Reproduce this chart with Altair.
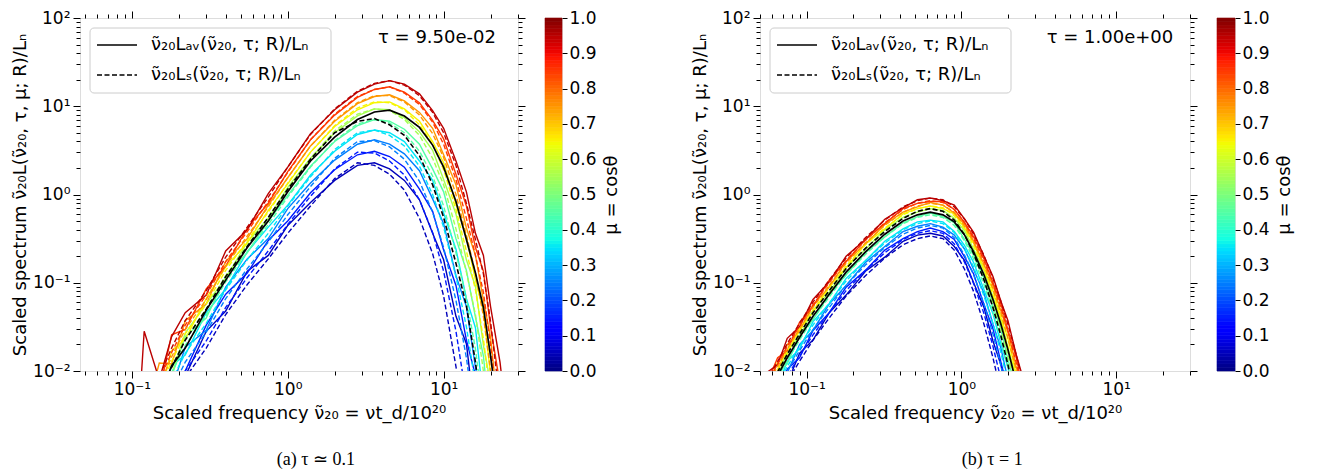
import altair as alt
import pandas as pd

# ---------------- data (log10 of scaled spectrum) ----------------
MU = [0.05, 0.15, 0.25, 0.35, 0.45, 0.55, 0.65, 0.75, 0.85, 0.95]

# panel (a): tau = 9.50e-02
NU_A = [0.11, 0.12, 0.15, 0.18, 0.22, 0.30, 0.40, 0.55, 0.75, 1.0, 1.4, 2.0, 2.8, 3.6,
        4.5, 5.6, 7.0, 8.5, 10, 12, 14, 16, 18, 20, 23, 26]

LOG_SOLID_A = {
    0.05: [None, -3.0, -2.51, -2.15, -2.06, -1.55, -1.32, -0.87, -0.69, -0.35, -0.09, 0.16, 0.33, 0.36, 0.29, 0.16, -0.06, -0.44, -0.74, -1.38, -1.69, -2.56, -3.16, None, None, None],
    0.15: [None, -2.92, -2.65, -2.11, -2.00, -1.48, -1.13, -0.89, -0.52, -0.30, 0.02, 0.28, 0.45, 0.49, 0.43, 0.31, 0.06, -0.19, -0.63, -1.03, -1.65, -2.05, -2.85, -3.49, None, None],
    0.25: [None, -2.79, -2.33, -2.21, -1.73, -1.54, -1.05, -0.73, -0.50, -0.16, 0.13, 0.39, 0.57, 0.62, 0.57, 0.46, 0.27, -0.05, -0.33, -0.92, -1.27, -1.96, -2.42, -3.16, None, None],
    0.35: [None, -2.77, -2.46, -1.94, -1.82, -1.34, -1.07, -0.65, -0.37, -0.12, 0.22, 0.49, 0.68, 0.73, 0.70, 0.60, 0.38, 0.16, -0.21, -0.62, -1.18, -1.51, -2.32, -2.85, None, None],
    0.45: [None, -2.61, -2.17, -2.06, -1.61, -1.40, -0.93, -0.66, -0.30, -0.01, 0.32, 0.60, 0.78, 0.85, 0.83, 0.74, 0.57, 0.29, 0.03, -0.50, -0.86, -1.39, -1.83, -2.63, -3.4, None],
    0.55: [None, -2.65, -2.08, -2.04, -1.57, -1.24, -0.95, -0.54, -0.27, 0.08, 0.41, 0.70, 0.89, 0.97, 0.96, 0.87, 0.71, 0.50, 0.17, -0.22, -0.74, -1.04, -1.71, -2.14, -3.08, None],
    0.65: [None, -2.40, -2.31, -1.77, -1.64, -1.18, -0.82, -0.55, -0.18, 0.12, 0.48, 0.77, 0.96, 1.04, 1.05, 0.97, 0.83, 0.60, 0.36, -0.11, -0.48, -0.97, -1.32, -2.04, -2.81, None],
    0.75: [None, -2.55, -1.91, -1.92, -1.43, -1.24, -0.76, -0.50, -0.12, 0.19, 0.55, 0.83, 1.03, 1.11, 1.13, 1.06, 0.93, 0.75, 0.45, 0.11, -0.38, -0.69, -1.20, -1.62, -2.63, -3.3],
    0.85: [None, -2.40, -2.23, -1.59, -1.53, -1.07, -0.81, -0.38, -0.10, 0.26, 0.62, 0.90, 1.10, 1.19, 1.22, 1.16, 1.04, 0.84, 0.63, 0.23, -0.13, -0.60, -0.87, -1.50, -2.15, -3.0],
    0.95: [-2.6, -1.55, -2.10, -1.61, -1.34, -1.14, -0.64, -0.40, 0.01, 0.31, 0.69, 0.96, 1.16, 1.25, 1.29, 1.25, 1.14, 0.95, 0.75, 0.38, 0.03, -0.44, -0.69, -1.27, -1.90, -2.72],
}
LOG_DASHED_A = {
    0.05: [None, -3.10, -2.71, -2.39, -2.08, -1.74, -1.36, -1.02, -0.73, -0.44, -0.13, 0.18, 0.36, 0.33, 0.23, 0.05, -0.27, -0.67, -1.15, -1.95, -2.70, None, None, None, None, None],
    0.15: [None, -3.02, -2.63, -2.31, -2.00, -1.66, -1.28, -0.94, -0.64, -0.34, -0.02, 0.29, 0.48, 0.47, 0.38, 0.22, -0.06, -0.43, -0.87, -1.55, -2.30, -2.90, None, None, None, None],
    0.25: [None, -2.92, -2.53, -2.21, -1.90, -1.56, -1.18, -0.84, -0.54, -0.23, 0.09, 0.41, 0.60, 0.61, 0.54, 0.40, 0.15, -0.20, -0.60, -1.20, -1.85, -2.60, -3.30, None, None, None],
    0.35: [None, -2.82, -2.43, -2.11, -1.80, -1.46, -1.08, -0.74, -0.44, -0.13, 0.20, 0.51, 0.70, 0.73, 0.67, 0.55, 0.32, 0.00, -0.37, -0.93, -1.50, -2.15, -2.90, None, None, None],
    0.45: [None, -2.73, -2.34, -2.02, -1.71, -1.37, -0.99, -0.65, -0.34, -0.03, 0.31, 0.61, 0.80, 0.85, 0.81, 0.70, 0.49, 0.21, -0.13, -0.66, -1.18, -1.75, -2.45, -3.20, None, None],
    0.55: [None, -2.66, -2.27, -1.95, -1.64, -1.30, -0.92, -0.58, -0.26, 0.06, 0.41, 0.72, 0.91, 0.97, 0.95, 0.85, 0.67, 0.41, 0.11, -0.39, -0.88, -1.36, -2.00, -2.70, None, None],
    0.65: [None, -2.60, -2.21, -1.89, -1.58, -1.24, -0.86, -0.52, -0.20, 0.13, 0.48, 0.78, 0.98, 1.05, 1.04, 0.96, 0.79, 0.57, 0.28, -0.17, -0.64, -1.08, -1.64, -2.30, -3.30, None],
    0.75: [None, -2.55, -2.16, -1.84, -1.53, -1.19, -0.81, -0.47, -0.14, 0.19, 0.55, 0.84, 1.04, 1.12, 1.12, 1.05, 0.90, 0.69, 0.42, 0.00, -0.46, -0.89, -1.38, -2.00, -2.95, None],
    0.85: [None, -2.50, -2.11, -1.79, -1.48, -1.14, -0.76, -0.42, -0.08, 0.25, 0.62, 0.91, 1.11, 1.19, 1.22, 1.15, 1.02, 0.82, 0.57, 0.17, -0.27, -0.69, -1.11, -1.70, -2.65, -3.50],
    0.95: [None, -2.45, -2.06, -1.74, -1.43, -1.09, -0.71, -0.37, -0.03, 0.31, 0.68, 0.97, 1.17, 1.26, 1.29, 1.24, 1.12, 0.93, 0.70, 0.33, -0.10, -0.51, -0.90, -1.44, -2.35, -3.20],
}
LOG_AV_A = [None, -2.70, -2.31, -1.94, -1.74, -1.31, -0.97, -0.60, -0.30, 0.03, 0.38, 0.65, 0.85, 0.935, 0.955, 0.89, 0.76, 0.56, 0.31, -0.08, -0.51, -0.89, -1.28, -1.83, -2.65, -3.3]
LOG_LS_A = [None, -2.67, -2.28, -1.96, -1.65, -1.30, -0.93, -0.59, -0.26, 0.06, 0.40, 0.70, 0.83, 0.86, 0.79, 0.67, 0.44, 0.11, -0.26, -0.78, -1.26, -1.90, -2.60, -3.3, None, None]

# panel (b): tau = 1.00e+00
NU_B = [0.055, 0.065, 0.075, 0.09, 0.11, 0.14, 0.18, 0.24, 0.32, 0.42, 0.52, 0.63, 0.76,
        0.9, 1.05, 1.2, 1.4, 1.6, 1.8, 2.0, 2.25, 2.5, 2.8]

LOG_SOLID_B = {
    0.05: [-2.52, -2.23, -2.14, -1.80, -1.65, -1.34, -1.14, -0.87, -0.71, -0.53, -0.46, -0.44, -0.47, -0.59, -0.75, -1.00, -1.28, -1.66, -1.93, -2.31, -2.76, -3.21, None],
    0.15: [-2.42, -2.29, -1.98, -1.85, -1.54, -1.34, -1.05, -0.86, -0.63, -0.50, -0.42, -0.38, -0.42, -0.51, -0.71, -0.90, -1.25, -1.52, -1.90, -2.21, -2.63, -3.08, None],
    0.25: [-2.41, -2.11, -2.02, -1.70, -1.54, -1.24, -1.03, -0.77, -0.59, -0.42, -0.36, -0.33, -0.37, -0.46, -0.62, -0.85, -1.12, -1.47, -1.74, -2.10, -2.51, -2.93, -3.44],
    0.35: [-2.31, -2.18, -1.89, -1.75, -1.44, -1.24, -0.95, -0.75, -0.53, -0.39, -0.31, -0.29, -0.31, -0.42, -0.58, -0.77, -1.08, -1.35, -1.69, -1.96, -2.38, -2.79, -3.27],
    0.45: [-2.30, -2.02, -1.92, -1.60, -1.42, -1.13, -0.91, -0.66, -0.48, -0.32, -0.25, -0.21, -0.25, -0.32, -0.51, -0.69, -0.95, -1.27, -1.53, -1.87, -2.19, -2.61, -3.07],
    0.55: [-2.17, -2.06, -1.77, -1.61, -1.31, -1.11, -0.83, -0.62, -0.40, -0.26, -0.20, -0.16, -0.18, -0.27, -0.41, -0.62, -0.86, -1.16, -1.41, -1.74, -2.06, -2.44, -2.88],
    0.65: [-2.21, -1.90, -1.81, -1.51, -1.34, -1.04, -0.83, -0.56, -0.39, -0.22, -0.16, -0.13, -0.16, -0.22, -0.38, -0.55, -0.84, -1.09, -1.39, -1.63, -2.02, -2.36, -2.80],
    0.75: [-2.10, -2.01, -1.70, -1.55, -1.25, -1.05, -0.76, -0.56, -0.34, -0.20, -0.14, -0.09, -0.12, -0.21, -0.34, -0.53, -0.79, -1.03, -1.32, -1.56, -1.94, -2.24, -2.68],
    0.85: [-2.15, -1.85, -1.77, -1.45, -1.27, -0.97, -0.76, -0.51, -0.33, -0.16, -0.10, -0.08, -0.08, -0.17, -0.32, -0.48, -0.73, -1.00, -1.24, -1.54, -1.83, -2.21, -2.59],
    0.95: [-2.02, -1.93, -1.63, -1.50, -1.19, -0.99, -0.70, -0.51, -0.28, -0.15, -0.06, -0.04, -0.07, -0.12, -0.28, -0.43, -0.70, -0.93, -1.21, -1.43, -1.80, -2.08, -2.50],
}
LOG_DASHED_B = {
    0.05: [-2.55, -2.32, -2.12, -1.89, -1.65, -1.40, -1.15, -0.92, -0.72, -0.57, -0.50, -0.47, -0.50, -0.63, -0.85, -1.10, -1.47, -1.85, -2.24, -2.66, -3.18, None, None],
    0.15: [-2.49, -2.26, -2.06, -1.83, -1.59, -1.34, -1.09, -0.86, -0.66, -0.51, -0.44, -0.41, -0.44, -0.56, -0.77, -1.01, -1.35, -1.72, -2.09, -2.48, -2.97, None, None],
    0.25: [-2.43, -2.20, -2.00, -1.77, -1.53, -1.28, -1.03, -0.80, -0.60, -0.45, -0.38, -0.35, -0.38, -0.49, -0.69, -0.91, -1.24, -1.58, -1.94, -2.30, -2.77, -3.24, None],
    0.35: [-2.38, -2.15, -1.95, -1.72, -1.48, -1.23, -0.98, -0.75, -0.55, -0.40, -0.33, -0.30, -0.33, -0.43, -0.62, -0.82, -1.15, -1.46, -1.79, -2.14, -2.57, -3.01, None],
    0.45: [-2.31, -2.08, -1.88, -1.65, -1.41, -1.16, -0.91, -0.68, -0.48, -0.33, -0.26, -0.23, -0.26, -0.35, -0.53, -0.73, -1.02, -1.33, -1.64, -1.96, -2.37, -2.78, -3.27],
    0.55: [-2.24, -2.01, -1.81, -1.58, -1.34, -1.09, -0.84, -0.61, -0.41, -0.26, -0.19, -0.16, -0.19, -0.28, -0.44, -0.64, -0.92, -1.22, -1.52, -1.82, -2.21, -2.60, -3.07],
    0.65: [-2.21, -1.98, -1.77, -1.55, -1.31, -1.06, -0.81, -0.57, -0.38, -0.23, -0.16, -0.13, -0.15, -0.24, -0.39, -0.58, -0.85, -1.14, -1.43, -1.72, -2.09, -2.46, -2.90],
    0.75: [-2.18, -1.95, -1.75, -1.52, -1.28, -1.03, -0.78, -0.55, -0.35, -0.20, -0.13, -0.10, -0.12, -0.20, -0.36, -0.54, -0.80, -1.07, -1.34, -1.63, -1.97, -2.34, -2.77],
    0.85: [-2.15, -1.92, -1.72, -1.49, -1.25, -1.00, -0.75, -0.52, -0.32, -0.17, -0.10, -0.07, -0.09, -0.17, -0.32, -0.50, -0.75, -1.01, -1.28, -1.55, -1.89, -2.23, -2.65],
    0.95: [-2.12, -1.89, -1.69, -1.46, -1.22, -0.97, -0.72, -0.49, -0.29, -0.14, -0.07, -0.04, -0.06, -0.14, -0.28, -0.45, -0.69, -0.95, -1.21, -1.47, -1.80, -2.13, -2.53],
}
LOG_AV_B = [-2.28, -2.05, -1.85, -1.62, -1.38, -1.13, -0.88, -0.65, -0.45, -0.30, -0.23, -0.20, -0.23, -0.31, -0.46, -0.65, -0.91, -1.19, -1.47, -1.76, -2.12, -2.48, -2.92]
LOG_LS_B = [-2.24, -2.01, -1.81, -1.58, -1.34, -1.09, -0.84, -0.61, -0.42, -0.27, -0.19, -0.16, -0.19, -0.29, -0.46, -0.67, -0.97, -1.28, -1.60, -1.93, -2.34, -2.76, None]

TAU_TEXT = ["τ = 9.50e-02", "τ = 1.00e+00"]
CAPTIONS = ["(a) τ ≃ 0.1", "(b) τ = 1"]
LEGEND_LABELS = ["ν̃₂₀Lₐᵥ(ν̃₂₀, τ; R)/Lₙ", "ν̃₂₀Lₛ(ν̃₂₀, τ; R)/Lₙ"]
X_TITLE = "Scaled frequency ν̃₂₀ = νt_d/10²⁰"
Y_TITLE = "Scaled spectrum ν̃₂₀L(ν̃₂₀, τ, μ; R)/Lₙ"
CB_TITLE = "μ = cosθ"
CB_TICKS = [0.0, 0.1, 0.2, 0.3, 0.4, 0.5, 0.6, 0.7, 0.8, 0.9, 1.0]
X_DOMAIN_A = [0.0465, 30]
X_DOMAIN_B = [0.05, 30]
Y_DOMAIN = [0.01, 100]

# matplotlib "jet" colour map (segment break points)
JET_STOPS = [0.0, 0.11, 0.125, 0.34, 0.35, 0.375, 0.64, 0.65, 0.66, 0.89, 0.91, 1.0]
JET_COLORS = ["#000080", "#0000ff", "#0000ff", "#00dbff", "#00e5f7", "#15ffe2",
              "#efff08", "#f7f600", "#ffec00", "#ff1300", "#e80000", "#800000"]

FONT = "DejaVu Sans"
FS = 17
FS_TEXT = 18
H = 353
W_A, W_B = 438, 430
CBW_A, CBW_B = 17, 18


def to_long(nu, table):
    rows = []
    for mu, vals in table.items():
        for n, v in zip(nu, vals):
            if v is not None:
                rows.append({"nu": n, "L": 10 ** v, "mu": mu})
    return pd.DataFrame(rows)


def to_single(nu, vals):
    return pd.DataFrame([{"nu": n, "L": 10 ** v} for n, v in zip(nu, vals) if v is not None])


jet = alt.Scale(domain=JET_STOPS, range=JET_COLORS, interpolate="rgb")
ys = alt.Scale(type="log", domain=Y_DOMAIN, nice=False)

X_MAJOR = [0.1, 1, 10]
X_MINOR = [0.05, 0.06, 0.07, 0.08, 0.09, 0.2, 0.3, 0.4, 0.5, 0.6, 0.7, 0.8, 0.9,
           2, 3, 4, 5, 6, 7, 8, 9, 20, 30]
Y_MAJOR = [0.01, 0.1, 1, 10, 100]
Y_MINOR = [0.02, 0.03, 0.04, 0.05, 0.06, 0.07, 0.08, 0.09, 0.2, 0.3, 0.4, 0.5, 0.6, 0.7,
           0.8, 0.9, 2, 3, 4, 5, 6, 7, 8, 9, 20, 30, 40, 50, 60, 70, 80, 90]

X_LABEL_EXPR = "datum.value < 0.5 ? '10⁻¹' : (datum.value < 5 ? '10⁰' : '10¹')"
Y_LABEL_EXPR = ("datum.value < 0.05 ? '10⁻²' : (datum.value < 0.5 ? '10⁻¹' : "
                "(datum.value < 5 ? '10⁰' : (datum.value < 50 ? '10¹' : '10²')))")

DUMMY = pd.DataFrame({"nu": [1.0], "L": [1.0]})
ONE = pd.DataFrame({"k": [0]})


def tick_axis(orient, values, size):
    return alt.Axis(orient=orient, values=values, tickSize=size, labels=False, domain=False,
                    grid=False, tickColor="black", tickWidth=1, title=None)


def panel(nu, solid, dashed, av, ls, tau_text, W, xdomain):
    xs = alt.Scale(type="log", domain=xdomain, nice=False)

    def axis_layer(xa, ya):
        return alt.Chart(DUMMY).mark_point(opacity=0).encode(
            x=alt.X("nu:Q", scale=xs, axis=xa),
            y=alt.Y("L:Q", scale=ys, axis=ya),
        )

    x_main = alt.Axis(orient="bottom", values=X_MAJOR, labelExpr=X_LABEL_EXPR, tickSize=7,
                      tickColor="black", labelFontSize=FS, labelFont=FONT, labelPadding=3,
                      domain=False, grid=False, title=X_TITLE, titleFontSize=FS_TEXT,
                      titleFont=FONT, titleFontWeight="normal", titlePadding=7)
    y_main = alt.Axis(orient="left", values=Y_MAJOR, labelExpr=Y_LABEL_EXPR, tickSize=7,
                      tickColor="black", labelFontSize=FS, labelFont=FONT, labelPadding=3,
                      domain=False, grid=False, title=Y_TITLE, titleFontSize=FS_TEXT,
                      titleFont=FONT, titleFontWeight="normal", titlePadding=3,
                      titleLimit=400)
    layers = [
        axis_layer(x_main, y_main),
        axis_layer(tick_axis("bottom", X_MINOR, 4), tick_axis("left", Y_MINOR, 4)),
        axis_layer(tick_axis("top", X_MAJOR, 7), tick_axis("right", Y_MAJOR, 7)),
        axis_layer(tick_axis("top", X_MINOR, 4), tick_axis("right", Y_MINOR, 4)),
    ]
    enc = dict(x=alt.X("nu:Q", scale=xs, axis=None), y=alt.Y("L:Q", scale=ys, axis=None))
    layers.append(
        alt.Chart(to_long(nu, solid)).mark_line(strokeWidth=1.4, clip=True).encode(
            color=alt.Color("mu:Q", scale=jet, legend=None), detail="mu:N", **enc))
    layers.append(
        alt.Chart(to_long(nu, dashed)).mark_line(strokeWidth=1.4, strokeDash=[5, 2.5],
                                                 clip=True).encode(
            color=alt.Color("mu:Q", scale=jet, legend=None), detail="mu:N", **enc))
    layers.append(alt.Chart(to_single(nu, av)).mark_line(color="black", strokeWidth=1.7,
                                                         clip=True).encode(**enc))
    layers.append(alt.Chart(to_single(nu, ls)).mark_line(color="black", strokeWidth=1.6,
                                                         strokeDash=[5, 2.5],
                                                         clip=True).encode(**enc))
    # legend box
    layers.append(alt.Chart(ONE).mark_rect(fill="white", fillOpacity=0.85, stroke="#cccccc",
                                           strokeWidth=1, cornerRadius=4).encode(
        x=alt.value(10), x2=alt.value(251), y=alt.value(10), y2=alt.value(75)))
    layers.append(alt.Chart(ONE).mark_rule(color="black", strokeWidth=1.7).encode(
        x=alt.value(17), x2=alt.value(57), y=alt.value(27)))
    layers.append(alt.Chart(ONE).mark_rule(color="black", strokeWidth=1.6,
                                           strokeDash=[5, 2.5]).encode(
        x=alt.value(17), x2=alt.value(57), y=alt.value(57)))
    for yy, lab in zip([27, 57], LEGEND_LABELS):
        layers.append(alt.Chart(ONE).mark_text(align="left", baseline="middle",
                                               fontSize=FS_TEXT, font=FONT,
                                               color="black").encode(
            x=alt.value(71), y=alt.value(yy), text=alt.value(lab)))
    layers.append(alt.Chart(ONE).mark_text(align="center", baseline="middle",
                                           fontSize=FS_TEXT, font=FONT, color="black").encode(
        x=alt.value(round(0.815 * W)), y=alt.value(20), text=alt.value(tau_text)))
    return alt.layer(*layers).properties(width=W, height=H).resolve_axis(
        x="independent", y="independent")


CB_STEPS = [i / 100 for i in range(100)]


def colorbar(cbw):
    return alt.Chart(pd.DataFrame({"lo": CB_STEPS})).transform_calculate(
        hi="datum.lo + 0.01", mid="datum.lo + 0.005"
    ).mark_rect(strokeWidth=0.6).encode(
        x=alt.value(0), x2=alt.value(cbw),
        y=alt.Y("lo:Q", scale=alt.Scale(domain=[0, 1], nice=False, zero=False),
                axis=alt.Axis(orient="right", values=CB_TICKS, format=".1f", tickSize=5,
                              tickColor="black", labelFontSize=FS, labelFont=FONT,
                              labelPadding=2, domain=False, grid=False, title=CB_TITLE,
                              titleAngle=270, titleBaseline="top", titleFontSize=FS_TEXT,
                              titleFont=FONT, titleFontWeight="normal", titlePadding=6)),
        y2="hi:Q",
        color=alt.Color("mid:Q", scale=jet, legend=None),
        stroke=alt.Stroke("mid:Q", scale=jet, legend=None),
    ).properties(width=cbw, height=H)


pa = panel(NU_A, LOG_SOLID_A, LOG_DASHED_A, LOG_AV_A, LOG_LS_A, TAU_TEXT[0], W_A, X_DOMAIN_A)
pb = panel(NU_B, LOG_SOLID_B, LOG_DASHED_B, LOG_AV_B, LOG_LS_B, TAU_TEXT[1], W_B, X_DOMAIN_B)

cap = dict(orient="bottom", anchor="middle", font="Liberation Serif", fontSize=18,
           fontWeight="normal", color="black", offset=28)
ga = alt.hconcat(pa, colorbar(CBW_A), spacing=27, bounds="flush",
                 title=alt.TitleParams(CAPTIONS[0], **cap))
gb = alt.hconcat(pb, colorbar(CBW_B), spacing=27, bounds="flush",
                 title=alt.TitleParams(CAPTIONS[1], **cap))

chart = alt.hconcat(ga, gb, spacing=70).properties(
    padding={"left": 3, "top": 0, "right": 5, "bottom": 0}
).configure_view(stroke="black", strokeWidth=1.2).configure(font=FONT)

chart.save("out.html", embed_options={"renderer": "svg", "actions": False})
